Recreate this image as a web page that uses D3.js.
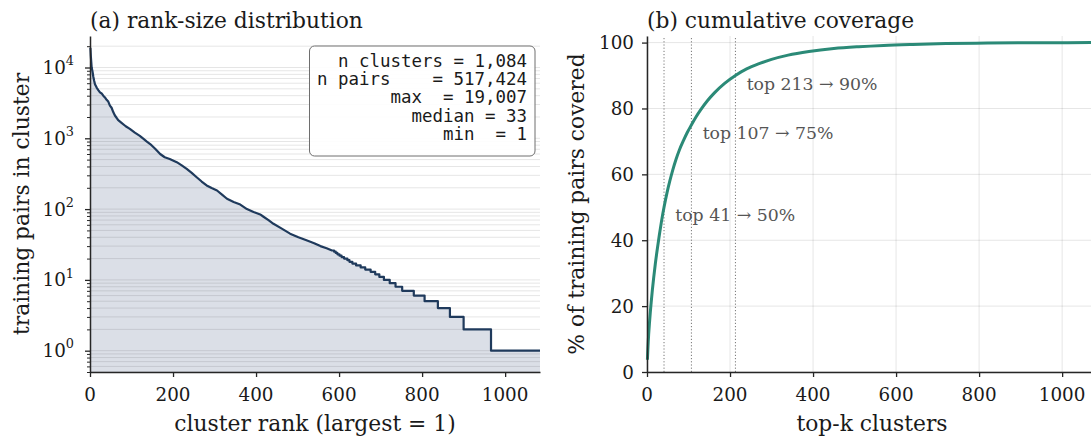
<!DOCTYPE html>
<html><head><meta charset="utf-8">
<script src="https://cdn.jsdelivr.net/npm/d3@7"></script>
<style>body{margin:0;background:#fff}svg{display:block}</style>
</head><body><svg id="c" width="1091" height="439"></svg>
<script>
// ---- data ----
const rankKnots=[1,2,3,4,6,8,10,12,16,20,24,28,32,36,40,44,48,52,56,60,64,68,76,86,96,108,120,129,137,145,157,169,180,192,209,221,233,245,257,269,281,293,306,318,330,346,362,378,394,410,418,430,442,462,482,502,523,540,555,570,583];
const sizeKnots=[19007,14500,12000,10000,8800,7400,6500,5800,5200,4800,4450,4300,4000,3780,3500,3300,2900,2700,2350,2100,1950,1800,1650,1480,1360,1200,1080,980,900,830,710,600,540,510,460,415,370,325,282,245,216,198,183,160,140,126,116,100,91,84,78,70,62,53,45,40,36,33,30,28,26];
const stepSizes=[26,25,24,23,22,21,20,19,18,17,16,15,14,13,12,11,10,9,8,7,6,5,4,3,2,1];
const stepEnds=[588,592,596,601,606,612,620,625,632,641,652,663,676,687,697,708,722,736,752,780,806,838,867,900,966,1084];
const covK=[1,2,3,4,6,8,10,13,16,20,25,30,35,41,48,55,62,70,78,88,97,107,118,130,146,163,187,213,240,270,300,340,390,450,510,570,640,720,820,950,1084];
const covPct=[3.7,6.7,9.2,11.4,15.0,18.2,21.0,25.0,28.5,32.8,37.5,41.8,45.8,50.0,54.3,58.0,61.3,64.6,67.4,70.3,72.7,75.0,77.4,79.7,82.4,84.8,87.6,90.0,92.0,93.6,94.9,96.2,97.3,98.2,98.75,99.15,99.45,99.7,99.87,99.96,100];
const markK=[41,107,213];
const markPct=[50,75,90];
const rankTicks=[0,200,400,600,800,1000];
const sizeTicks=[1,10,100,1000,10000];
const sizeExp=["0","1","2","3","4"];
const pctTicks=[0,20,40,60,80,100];
const statLines=["n clusters = 1,084","n pairs    = 517,424","max  = 19,007","median = 33","min  = 1"];
const titles=["(a) rank-size distribution","(b) cumulative coverage"];
const xLabels=["cluster rank (largest = 1)","top-k clusters"];
const yLabels=["training pairs in cluster","% of training pairs covered"];

// ---- setup ----
const svg=d3.select("#c");
const SERIF='"DejaVu Serif", serif', MONO='"DejaVu Sans Mono", monospace';
function fontFor(str,family,target){
  const t=svg.append("text").attr("font-family",family).attr("font-size",100).style("white-space","pre").text(str);
  const L=t.node().getComputedTextLength(); t.remove(); return 100*target/L;
}
const fTick=fontFor("1000",SERIF,46.7);
const fTitle=fontFor(titles[0],SERIF,273);
const fLabel=fontFor(xLabels[0],SERIF,281.5);
const fMono=fontFor(statLines[1],MONO,210);
const fNote=fontFor("top 213 → 90%",SERIF,131);
const INK="#262626", GRID="rgba(0,0,0,0.1)";

const yTop=36,yBot=372;
const xL=d3.scaleLinear().domain([0,1084]).range([90,540]);
const yL=d3.scaleLog().domain([0.5,27860]).range([yBot,yTop]);
const xR=d3.scaleLinear().domain([0,1084]).range([647,1097]);
const yR=d3.scaleLinear().domain([0,102]).range([yBot,yTop]);

// ---- left panel ----
const pts=rankKnots.map((r,i)=>[r,sizeKnots[i]]);
let prev=rankKnots[rankKnots.length-1];
stepSizes.forEach((v,i)=>{pts.push([prev,v]);pts.push([stepEnds[i],v]);prev=stepEnds[i];});
const gL=svg.append("g");
gL.append("path").datum(pts).attr("fill","#dbdfe7")
  .attr("d",d3.area().x(d=>xL(d[0])).y0(yL(0.5)).y1(d=>yL(d[1])));
const minor=[];
for(let e=-1;e<=4;e++)for(let m=1;m<=9;m++){const v=m*Math.pow(10,e);if(v>=0.5&&v<=27860)minor.push(v);}
gL.append("g").selectAll("line").data(minor).join("line")
  .attr("x1",90).attr("x2",540).attr("y1",d=>yL(d)).attr("y2",d=>yL(d))
  .attr("stroke",GRID).attr("stroke-width",1);
gL.append("path").datum(pts).attr("fill","none").attr("stroke","#1f3a5c").attr("stroke-width",2.2)
  .attr("stroke-linejoin","round").attr("d",d3.line().x(d=>xL(d[0])).y(d=>yL(d[1])));

function styleAxis(g){
  g.select(".domain").attr("stroke",INK).attr("stroke-width",1.5);
  g.selectAll(".tick line").attr("stroke",INK).attr("stroke-width",1.3);
}
const axLx=gL.append("g").attr("transform",`translate(0,${yBot})`)
  .call(d3.axisBottom(xL).tickValues(rankTicks).tickSize(5).tickSizeOuter(0).tickFormat(""));
styleAxis(axLx);
const axLy=gL.append("g").attr("transform","translate(90,0)")
  .call(d3.axisLeft(yL).tickValues(sizeTicks).tickSize(5).tickSizeOuter(0).tickFormat(""));
styleAxis(axLy);
const axLm=gL.append("g").attr("transform","translate(90,0)")
  .call(d3.axisLeft(yL).tickValues(minor.filter(v=>!sizeTicks.includes(v))).tickSize(3).tickSizeOuter(0).tickFormat(""));
axLm.select(".domain").remove();
axLm.selectAll(".tick line").attr("stroke",INK).attr("stroke-width",1);

gL.append("g").selectAll("text").data(rankTicks).join("text")
  .attr("x",d=>xL(d)).attr("y",401).attr("text-anchor","middle")
  .attr("font-family",SERIF).attr("font-size",fTick).attr("fill","#1a1a1a").text(d=>d);
const yt=gL.append("g").selectAll("text").data(sizeTicks).join("text")
  .attr("x",74).attr("y",d=>yL(d)+0.36*fTick).attr("text-anchor","end")
  .attr("font-family",SERIF).attr("font-size",fTick).attr("fill","#1a1a1a");
yt.append("tspan").text("10");
yt.append("tspan").attr("font-size",fTick*0.7).attr("dy",-0.48*fTick).text((d,i)=>sizeExp[i]);

// stats box
gL.append("rect").attr("x",309.5).attr("y",46).attr("width",225.5).attr("height",110).attr("rx",5)
  .attr("fill","#fff").attr("fill-opacity",0.92).attr("stroke","#6e6e6e").attr("stroke-width",1);
gL.append("g").selectAll("text").data(statLines).join("text")
  .attr("x",527).attr("y",(d,i)=>66.5+i*18.4).attr("text-anchor","end")
  .attr("font-family",MONO).attr("font-size",fMono).attr("fill","#1a1a1a")
  .style("white-space","pre").text(d=>d);

// ---- right panel ----
const gR=svg.append("g");
gR.append("g").selectAll("line").data(rankTicks).join("line")
  .attr("x1",d=>xR(d)).attr("x2",d=>xR(d)).attr("y1",yTop).attr("y2",yBot).attr("stroke",GRID);
gR.append("g").selectAll("line").data(pctTicks).join("line")
  .attr("x1",647).attr("x2",1097).attr("y1",d=>yR(d)).attr("y2",d=>yR(d)).attr("stroke",GRID);
gR.append("g").selectAll("line").data(markK).join("line")
  .attr("x1",d=>xR(d)).attr("x2",d=>xR(d)).attr("y1",yR(0)).attr("y2",yR(102))
  .attr("stroke","#777").attr("stroke-width",1).attr("stroke-dasharray","1.2,2");
gR.append("path").datum(covK.map((k,i)=>[k,covPct[i]])).attr("fill","none")
  .attr("stroke","#2b8a77").attr("stroke-width",3)
  .attr("d",d3.line().curve(d3.curveMonotoneX).x(d=>xR(d[0])).y(d=>yR(d[1])));
gR.append("g").selectAll("text").data(markK).join("text")
  .attr("x",d=>xR(d+27)).attr("y",(d,i)=>yR(markPct[i]-2.4)+0.36*fNote)
  .attr("font-family",SERIF).attr("font-size",fNote).attr("fill","#555")
  .text((d,i)=>`top ${d} → ${markPct[i]}%`);
const axRx=gR.append("g").attr("transform",`translate(0,${yBot})`)
  .call(d3.axisBottom(xR).tickValues(rankTicks).tickSize(5).tickSizeOuter(0).tickFormat(""));
styleAxis(axRx);
const axRy=gR.append("g").attr("transform","translate(647,0)")
  .call(d3.axisLeft(yR).tickValues(pctTicks).tickSize(5).tickSizeOuter(0).tickFormat(""));
styleAxis(axRy);
gR.append("g").selectAll("text").data(rankTicks).join("text")
  .attr("x",d=>xR(d)).attr("y",401).attr("text-anchor","middle")
  .attr("font-family",SERIF).attr("font-size",fTick).attr("fill","#1a1a1a").text(d=>d);
gR.append("g").selectAll("text").data(pctTicks).join("text")
  .attr("x",634).attr("y",d=>yR(d)+0.36*fTick).attr("text-anchor","end")
  .attr("font-family",SERIF).attr("font-size",fTick).attr("fill","#1a1a1a").text(d=>d);

// ---- titles & labels ----
[90,647].forEach((x,i)=>{
  svg.append("text").attr("x",x).attr("y",27.5).attr("font-family",SERIF).attr("font-size",fTitle)
    .attr("fill","#1a1a1a").text(titles[i]);
});
[315,872].forEach((x,i)=>{
  svg.append("text").attr("x",x).attr("y",431).attr("text-anchor","middle").attr("font-family",SERIF)
    .attr("font-size",fLabel).attr("fill","#1a1a1a").text(xLabels[i]);
});
[29,584].forEach((x,i)=>{
  svg.append("text").attr("transform",`translate(${x},204) rotate(-90)`).attr("text-anchor","middle")
    .attr("font-family",SERIF).attr("font-size",fLabel).attr("fill","#1a1a1a").text(yLabels[i]);
});
</script></body></html>
